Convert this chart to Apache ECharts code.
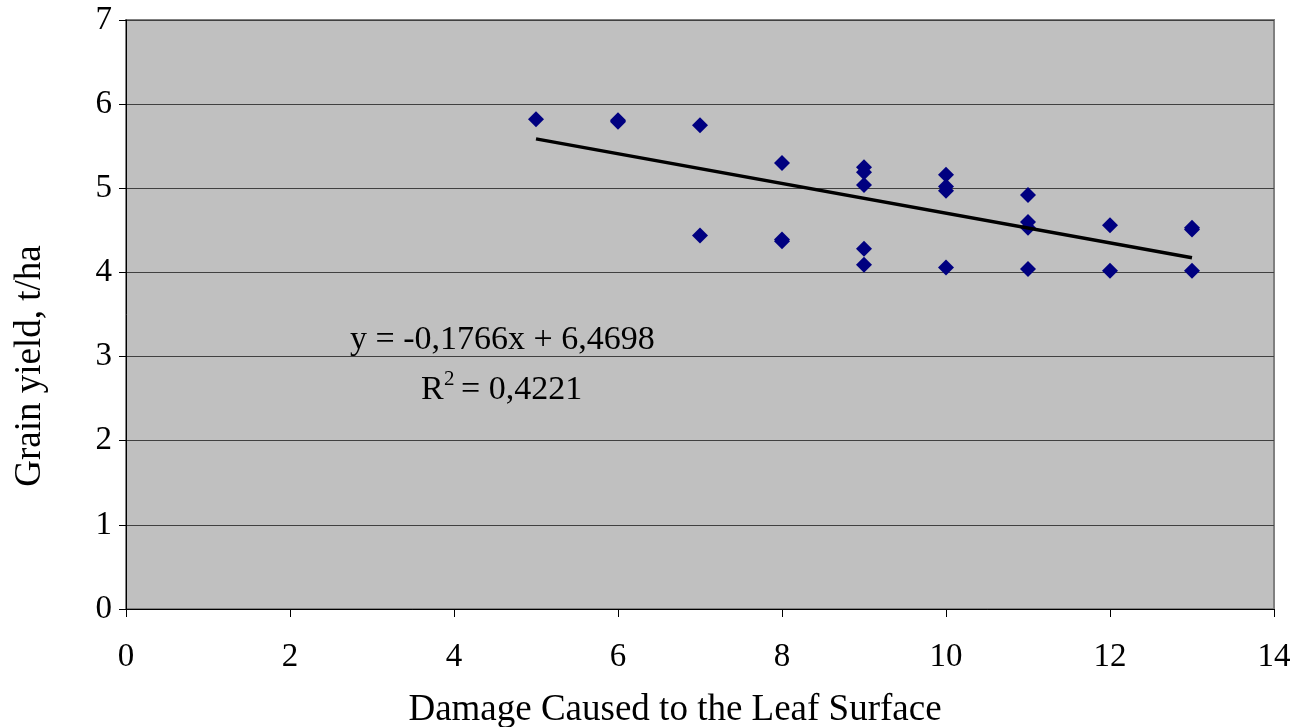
<!DOCTYPE html>
<html><head><meta charset="utf-8">
<script src="https://cdn.jsdelivr.net/npm/echarts@6/dist/echarts.min.js"></script>
<style>html,body{margin:0;padding:0;background:#fff}#c{width:1307px;height:727px}</style>
</head><body><div id="c"></div>
<script>
const damage = [5, 6, 6, 7, 7, 8, 8, 8, 9, 9, 9, 9, 9, 10, 10, 10, 10, 11, 11, 11, 11, 12, 12, 13, 13, 13];
const yieldT = [5.82, 5.81, 5.79, 5.75, 4.44, 5.30, 4.39, 4.37, 5.25, 5.19, 5.04, 4.28, 4.09, 5.16, 5.02, 4.97, 4.06, 4.92, 4.60, 4.53, 4.04, 4.56, 4.02, 4.53, 4.51, 4.02];
const trendX = [5, 13];
const trendY = [5.587, 4.174];
const xTicks = [0, 2, 4, 6, 8, 10, 12, 14];
const yTicks = [0, 1, 2, 3, 4, 5, 6, 7];
const eqText = 'y = -0,1766x + 6,4698';
const r2Value = '= 0,4221';
const xTitle = 'Damage Caused to the Leaf Surface';
const yTitle = 'Grain yield, t/ha';

const font = 'Liberation Serif, Times New Roman, serif';
const chart = echarts.init(document.getElementById('c'));
chart.setOption({
  animation: false,
  backgroundColor: '#ffffff',
  grid: { left: 126, right: 33, top: 20, bottom: 118, show: true, backgroundColor: '#c0c0c0', borderColor: '#808080', borderWidth: 2 },
  xAxis: {
    type: 'value', min: 0, max: 14, interval: 2,
    axisLine: { onZero: false, lineStyle: { color: '#000', width: 1 } },
    axisTick: { show: true, length: 8, lineStyle: { color: '#000' } },
    axisLabel: { color: '#000', fontFamily: font, fontSize: 33, margin: 32, formatter: v => xTicks.includes(v) ? String(v) : '' },
    splitLine: { show: false }
  },
  yAxis: {
    type: 'value', min: 0, max: 7, interval: 1,
    axisLine: { show: true, lineStyle: { color: '#000', width: 1 } },
    axisTick: { show: true, length: 7, lineStyle: { color: '#000' } },
    axisLabel: { color: '#000', fontFamily: font, fontSize: 33, margin: 14, formatter: v => yTicks.includes(v) ? String(v) : '' },
    splitLine: { show: true, lineStyle: { color: '#404040', width: 1 } }
  },
  series: [
    {
      type: 'scatter', symbol: 'diamond', symbolSize: 16,
      itemStyle: { color: '#000080', opacity: 1 },
      data: damage.map((d, i) => [d, yieldT[i]]), z: 3
    },
    {
      type: 'line', symbol: 'none', silent: true,
      lineStyle: { color: '#000', width: 3.5 },
      data: trendX.map((d, i) => [d, trendY[i]]), z: 4
    }
  ],
  graphic: [
    { type: 'text', left: 350, top: 323, style: { text: eqText, font: '34px ' + font, fill: '#000' } },
    { type: 'text', left: 421, top: 373, style: { text: 'R', font: '34px ' + font, fill: '#000' } },
    { type: 'text', left: 444, top: 369, style: { text: '2', font: '21px ' + font, fill: '#000' } },
    { type: 'text', left: 461, top: 373, style: { text: r2Value, font: '34px ' + font, fill: '#000' } },
    { type: 'text', x: 675, y: 710, style: { text: xTitle, font: '37px ' + font, fill: '#000', align: 'center', verticalAlign: 'middle' } },
    { type: 'text', x: 30, y: 366, rotation: Math.PI / 2, style: { text: yTitle, font: '37px ' + font, fill: '#000', align: 'center', verticalAlign: 'middle' } }
  ]
});
</script></body></html>
